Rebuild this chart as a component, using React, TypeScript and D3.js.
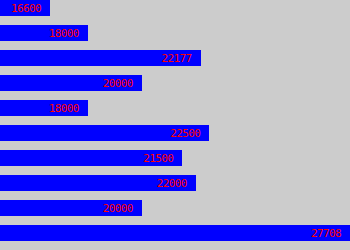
import React from "react";
import * as d3 from "d3";

const categories = ["A", "B", "C", "D", "E", "F", "G", "H", "I", "J"];
const values = [16600, 18000, 22177, 20000, 18000, 22500, 21500, 22000, 20000, 27708];

const W = 350;
const H = 250;

export default function App() {
  const [mn, mx] = d3.extent(values) as [number, number];
  const x = d3.scaleLinear().domain([mn - (mx - mn) / 6, mx]).range([0, W]);
  const y = d3
    .scaleBand<string>()
    .domain(categories)
    .range([0, 241])
    .paddingInner(0.36)
    .paddingOuter(0);
  const bh = y.bandwidth();
  return (
    <svg width={W} height={H} style={{ position: "absolute", left: 0, top: 0 }}>
      <rect x={0} y={0} width={W} height={H} fill="#cccccc" />
      {categories.map((c, i) => {
        const yy = y(c) as number;
        const w = x(values[i]);
        return (
          <g key={c}>
            <rect x={0} y={yy} width={w} height={bh} fill="#0000ff" shapeRendering="crispEdges" />
            <text
              x={w - 9}
              y={yy + 12}
              textAnchor="end"
              fill="#ff0000"
              fontFamily="'DejaVu Sans Mono', monospace"
              fontSize={11}
              letterSpacing={-0.6}
            >
              {values[i]}
            </text>
          </g>
        );
      })}
    </svg>
  );
}
